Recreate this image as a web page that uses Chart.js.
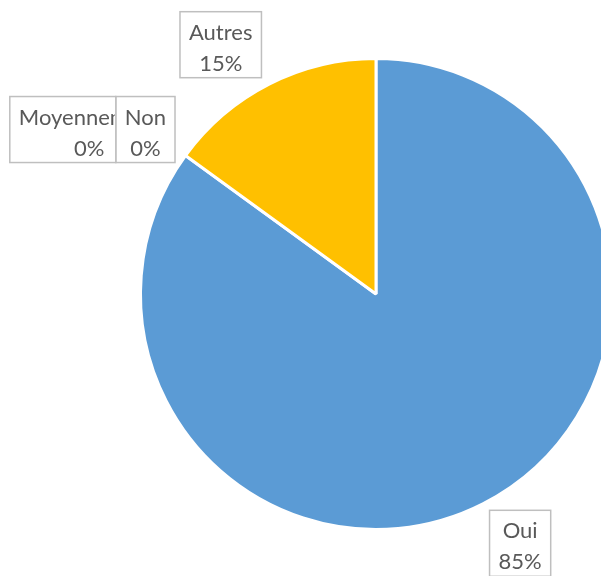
<!DOCTYPE html>
<html>
<head>
<meta charset="utf-8">
<script src="https://cdn.jsdelivr.net/npm/chart.js@4"></script>
<style>
html, body { margin: 0; padding: 0; background: #fff; overflow: hidden; }
#wrap { width: 613px; height: 576px; }
</style>
</head>
<body>
<div id="wrap"><canvas id="camembert" width="613" height="576"></canvas></div>
<script>
const categories = ['Oui', 'Non', 'Moyennement', 'Autres'];
const pourcentages = [85, 0, 0, 15];
const couleurs = ['#5B9BD5', '#ED7D31', '#A5A5A5', '#FFC000'];

// étiquettes encadrées posées à l'extérieur de chaque part
const etiquettes = {
    id: 'etiquettes',
    afterDatasetsDraw(chart) {
        const ctx = chart.ctx;
        const arcs = chart.getDatasetMeta(0).data;
        const marge = 9, hauteur = 66, largeurMax = 106, ecart = 8;
        ctx.save();
        ctx.font = '22px Lato, "Open Sans", sans-serif';
        const places = [];
        arcs.forEach((arc, i) => {
            const lignes = [categories[i], pourcentages[i] + '%'];
            const bloc = Math.max(...lignes.map(l => ctx.measureText(l).width));
            const largeur = Math.min(bloc + 2 * marge, largeurMax);
            const milieu = (arc.startAngle + arc.endAngle) / 2;
            const dx = Math.cos(milieu), dy = Math.sin(milieu);
            const ax = arc.x + (arc.outerRadius + ecart) * dx;
            const ay = arc.y + (arc.outerRadius + ecart) * dy;
            // plus la direction est horizontale, plus la boîte se centre verticalement
            const fy = Math.min(1, 0.5 + 0.55 * Math.abs(dy));
            let x = dx >= 0 ? ax + 3 : ax - largeur - 4;
            const y = dy >= 0 ? ay - (1 - fy) * hauteur : ay - fy * hauteur;
            // on pousse vers l'extérieur tant qu'une autre étiquette gêne
            let gene = true;
            while (gene) {
                gene = false;
                for (const p of places) {
                    if (x < p.x + p.w - 0.5 && x + largeur > p.x + 0.5 && y < p.y + p.h && y + hauteur > p.y) {
                        x = dx >= 0 ? p.x + p.w : p.x - largeur;
                        gene = true;
                    }
                }
            }
            places.push({ x, y, w: largeur, h: hauteur });

            ctx.fillStyle = '#fff';
            ctx.fillRect(x, y, largeur, hauteur);
            ctx.strokeStyle = '#BFBFBF';
            ctx.lineWidth = 1.5;
            ctx.strokeRect(x, y, largeur, hauteur);

            ctx.save();
            ctx.beginPath();
            ctx.rect(x, y, largeur - 1, hauteur);
            ctx.clip();
            ctx.fillStyle = '#595959';
            ctx.textAlign = 'center';
            ctx.textBaseline = 'alphabetic';
            const cx = x + marge + bloc / 2;
            ctx.fillText(lignes[0], cx, y + 28);
            ctx.fillText(lignes[1], cx, y + 59);
            ctx.restore();
        });
        ctx.restore();
    }
};

new Chart(document.getElementById('camembert'), {
    type: 'pie',
    data: {
        labels: categories,
        datasets: [{
            data: pourcentages,
            backgroundColor: couleurs,
            borderColor: '#fff',
            borderWidth: 3
        }]
    },
    options: {
        responsive: false,
        animation: false,
        layout: { padding: { left: 139, top: 57, bottom: 45, right: 0 } },
        plugins: {
            legend: { display: false },
            tooltip: { enabled: false }
        }
    },
    plugins: [etiquettes]
});
</script>
</body>
</html>
